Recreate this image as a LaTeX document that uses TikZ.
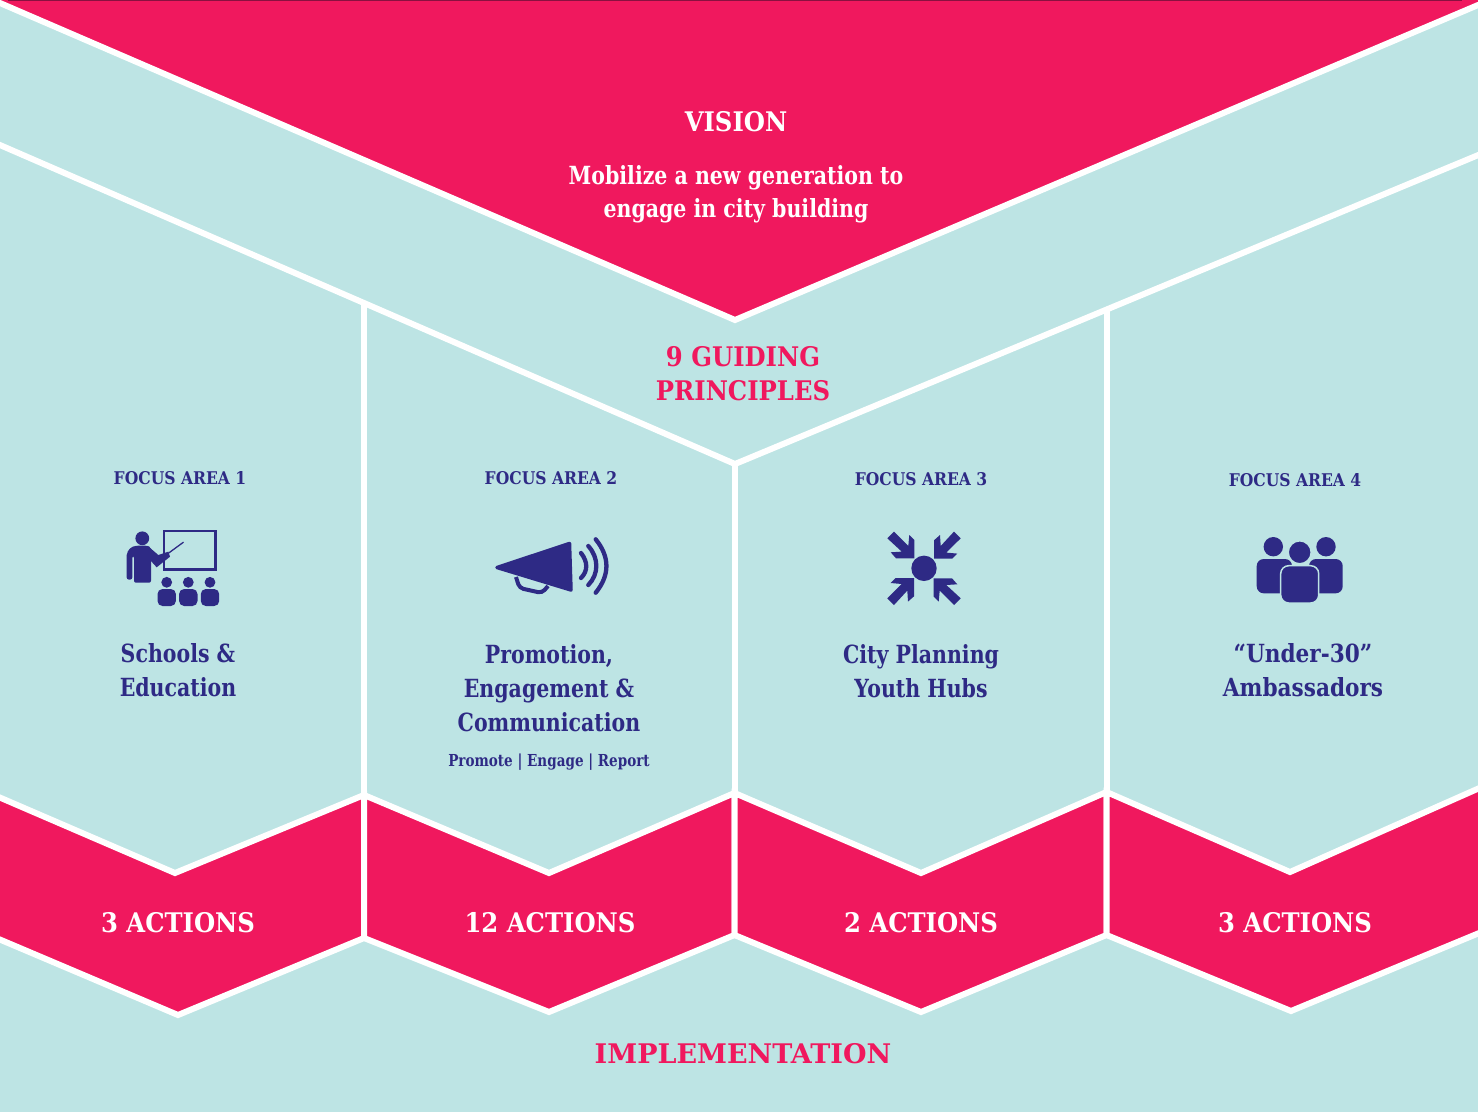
\documentclass[tikz,border=0pt]{standalone}
\usepackage{fontspec}
\setmainfont{DejaVu Serif}
\newfontfamily\headfont[FakeStretch=0.9]{DejaVu Serif}
\newfontfamily\widefont{DejaVu Serif}
\newfontfamily\labelfont[FakeStretch=0.82]{DejaVu Serif}
\newfontfamily\focusfont[FakeStretch=0.89]{DejaVu Serif}
\newfontfamily\roomyfont[FakeStretch=0.865]{DejaVu Serif}
\definecolor{crimson}{HTML}{F0185E}
\definecolor{paleteal}{HTML}{BDE4E4}
\definecolor{navyink}{HTML}{2E2A85}
\definecolor{darkrim}{HTML}{8A1040}
\tikzset{
  band/.style={draw=white,line width=6pt,line join=miter},
  heading/.style={font=\headfont\bfseries\fontsize{27}{34}\selectfont,align=center,inner sep=0pt},
  pinkhead/.style={heading,crimson},
  whitehead/.style={heading,white},
  focus/.style={font=\focusfont\bfseries\fontsize{17.5}{22}\selectfont,navyink,inner sep=0pt},
  areaname/.style={font=\labelfont\bfseries\fontsize{25}{34}\selectfont,navyink,align=center,inner sep=0pt},
  icon/.style={fill=navyink,draw=none},
  iconline/.style={draw=navyink,line cap=round},
  person/.style={fill=navyink,draw=paleteal,line width=1.5pt}
}
\begin{document}
\begin{tikzpicture}[x=1pt,y=-1pt]
  \useasboundingbox (0,0) rectangle (1478,1112);
  \clip (0,0) rectangle (1478,1112);
  \fill[paleteal] (0,0) rectangle (1478,1112);
  % Vision wedge at the top
  \fill[crimson] (0,0)--(1478,0)--(1478,5)--(735,320)--(0,3)--cycle;
  \draw[darkrim,line width=1.5pt] (8,0.5)--(1462,0.5);
  \draw[band] (-10,-1.3)--(735,320)--(1488,0.8);
  % Principles band and column walls
  \draw[band] (-10,140.7)--(735,464)--(1488,151);
  \draw[band] (364,303)--(364,795);
  \draw[band] (734.5,464)--(734.5,793);
  \draw[band] (1106.5,309)--(1106.5,792);
  % Action chevrons: left, valley, right of the upper edge, then of the lower edge
  \foreach \xl/\yl/\xv/\yv/\xr/\yr/\yL/\xt/\yt/\yR in {
    -6/795/175/873/364/795/937/178/1015/938,
    364/795/549/873/734.5/793/938/549/1012/935,
    734.5/793/921/873/1106.5/792/935/921/1012/935,
    1106.5/792/1290/872/1484/786/935/1291/1011/931}{
    \draw[band,fill=crimson] (\xl,\yl)--(\xv,\yv)--(\xr,\yr)--(\xr,\yR)--(\xt,\yt)--(\xl,\yL)--cycle;
  }
  % Headings
  \node[whitehead] (vision) at (736,122) {VISION};
  \node[font=\labelfont\bfseries\fontsize{25}{33}\selectfont,white,align=center,inner sep=0pt] (visiontext) at (736,194) {Mobilize a new generation to\\engage in city building};
  \node[pinkhead] (principles) at (743,374) {9 GUIDING\\PRINCIPLES};
  \node[pinkhead,font=\widefont\bfseries\fontsize{27}{34}\selectfont] (implementation) at (743,1054) {IMPLEMENTATION};
  % Focus areas
  \node[focus] (focusa) at (180,478) {FOCUS AREA 1};
  \node[focus] (focusb) at (551,478) {FOCUS AREA 2};
  \node[focus] (focusc) at (921,479) {FOCUS AREA 3};
  \node[focus] (focusd) at (1295,480) {FOCUS AREA 4};
  \node[areaname] (schools) at (178,670) {Schools \&\\Education};
  \node[areaname] (promotion) at (549,688) {Promotion,\\Engagement \&\\Communication};
  \node[font=\labelfont\bfseries\fontsize{16.5}{20}\selectfont,navyink,inner sep=0pt] (promote) at (549,762) {Promote | Engage | Report};
  \node[areaname] (planning) at (921,671) {City Planning\\Youth Hubs};
  \node[areaname,font=\roomyfont\bfseries\fontsize{25}{34}\selectfont] (ambassadors) at (1303,670) {“Under-30”\\Ambassadors};
  % Action counts
  \node[whitehead] (actionsa) at (178,923) {3 ACTIONS};
  \node[whitehead] (actionsb) at (550,923) {12 ACTIONS};
  \node[whitehead] (actionsc) at (921,923) {2 ACTIONS};
  \node[whitehead] (actionsd) at (1295,923) {3 ACTIONS};
  % Icon 1: presenter and audience
  \draw[navyink,line width=2.5pt] (164,531)rectangle(215.5,569.5);
  \fill[icon] (142.3,538.3) circle (6.9);
  \fill[icon,rounded corners=2pt] (126.7,579.5)--(126.7,553)--(131,547)--(138,545.5)--(146,545.5)--(151,547)--(151,582.7)--(134,582.7)--(134,556)--(132.3,556)--(132.3,579.5)--cycle;
  \fill[icon] (149,547)--(158.3,555)--(168.3,551.7)--(170,556.7)--(156.7,567.3)--(150,560)--cycle;
  \draw[iconline,line width=1.3pt] (168.3,553.3)--(183.3,542.3);
  \foreach \xp in {166.7,188.3,210}{
    \fill[icon] (\xp,582.3) circle (5.4);
    \fill[icon,rounded corners=5pt] ({\xp-9.2},606)--({\xp-9.2},589)--({\xp+9.2},589)--({\xp+9.2},606)--cycle;
  }
  % Icon 2: megaphone
  \filldraw[fill=navyink,draw=navyink,line width=3.5pt,line join=round] (497,567.5)--(569.5,543.5)--(571,590)--cycle;
  \draw[navyink,line width=4pt,rounded corners=4pt] (516,577)--(519.5,588)--(542,593)--(548,586);
  \draw[iconline,line width=4.3pt] (581,553) .. controls (588,562) and (588,571) .. (581,578);
  \draw[iconline,line width=4.3pt] (588.3,546) .. controls (599,558) and (599,574) .. (588.3,585);
  \draw[iconline,line width=4.3pt] (595.7,539.3) .. controls (610,557) and (610,575) .. (595.7,592.7);
  % Icon 3: four arrows closing on a point
  \fill[icon] (924,568.3) circle (12.7);
  \foreach \ang in {0,90,180,270}{
    \begin{scope}[shift={(924,568.3)},rotate=\ang]
      \fill[icon] (-30,-36.7)--(-15.7,-22.3)--(-14.7,-33.3)--(-9.7,-28.3)--(-9.7,-10)--(-28,-10)--(-33.3,-16)--(-22.3,-16.7)--(-36.7,-30)--cycle;
    \end{scope}
  }
  % Icon 4: group of three
  \fill[icon] (1273.3,546.7) circle (9.7);
  \fill[icon] (1326,546.7) circle (9.7);
  \fill[icon,rounded corners=7pt] (1256.7,593.3) rectangle (1292,559);
  \fill[icon,rounded corners=7pt] (1309,593.3) rectangle (1342.7,559);
  \filldraw[person] (1299.7,552.3) circle (11.5);
  \filldraw[person,rounded corners=8pt] (1280.7,603) rectangle (1318.7,565.7);
\end{tikzpicture}
\end{document}
